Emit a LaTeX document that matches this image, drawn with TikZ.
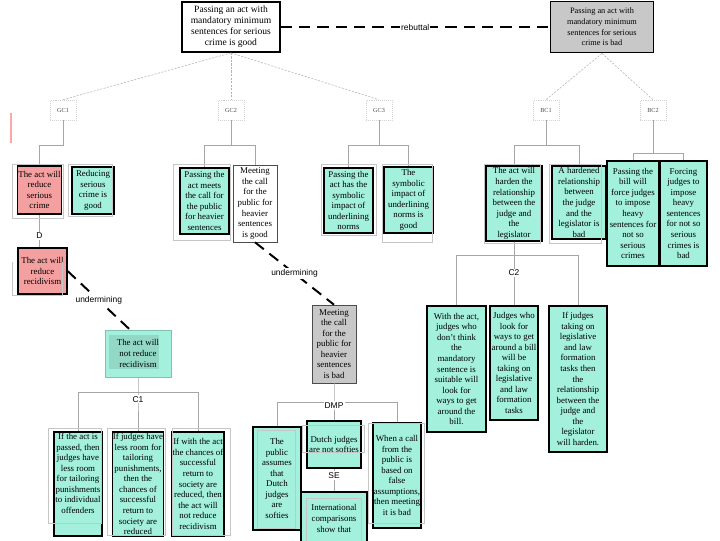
\documentclass[tikz,border=0pt]{standalone}
\usepackage{fontspec}
\setmainfont{Liberation Serif}
\setsansfont{Liberation Sans}

\newlength{\pxl}
\setlength{\pxl}{0.025cm}
\definecolor{objred}{RGB}{245,160,160}
\definecolor{reasongreen}{RGB}{163,240,220}
\definecolor{claimgray}{RGB}{200,200,200}
\newcommand{\argfont}{\fontsize{6.3}{7.5}\selectfont}

\tikzset{
  sz/.style 2 args={minimum width=#1\pxl, minimum height=#2\pxl},
  claim/.style={draw, line width=1.3pt, align=center, inner sep=1pt, font=\fontsize{6.8}{7.8}\selectfont},
  reason/.style={draw, line width=0.8pt, fill=reasongreen, align=center, inner sep=0.5pt, font=\argfont},
  objection/.style={reason, fill=objred},
  unmarked/.style={draw=black!70, line width=0.4pt, align=center, inner sep=0.5pt, font=\argfont},
  tag/.style={draw=gray!35, densely dotted, text=black!70, font=\fontsize{4.4}{5}\selectfont, sz={26}{20}, inner sep=0pt},
  lab/.style={font=\sffamily\fontsize{6}{7}\selectfont, text=black, fill=white, inner sep=0.8pt},
  link/.style={gray!60, line width=0.4pt, dash pattern=on 1.5pt off 1pt},
  tree/.style={gray!70, line width=0.5pt},
  frame/.style={gray!45, line width=0.4pt},
  rebut/.style={line width=1.4pt, dash pattern=on 8pt off 5pt},
}

\begin{document}
\begin{tikzpicture}[x=0.025cm, y=-0.025cm]
\useasboundingbox (0,0) rectangle (720,540);

% main claims and rebuttal
\node[claim, fill=white, sz={98}{50}] (good) at (231,27) {Passing an act with\\ mandatory minimum\\ sentences for serious\\ crime is good};
\node[claim, fill=claimgray, sz={103}{51}, font=\fontsize{5.9}{7.6}\selectfont] (bad) at (602,27) {Passing an act with\\ mandatory minimum\\ sentences for serious\\ crime is bad};
\draw[rebut] (good) -- node[lab]{rebuttal} (bad);

% scheme tags
\node[tag] (gc1) at (63,110) {GC1};
\node[tag] (gc2) at (231,110) {GC2};
\node[tag] (gc3) at (379,110) {GC3};
\node[tag] (bc1) at (546,110) {BC1};
\node[tag] (bc2) at (653,110) {BC2};
\draw[link] (good.south) -- (gc1.north);
\draw[link] (good.south) -- (gc2.north);
\draw[link] (good.south) -- (gc3.north);
\draw[link] (bad.south) -- (bc1.north);
\draw[link] (bad.south) -- (bc2.north);
\draw[red!35, line width=1.4pt] (11,113) -- (11,143);

% GC1
\node[objection, sz={43}{48}] (red1) at (39.5,190) {The act will\\ reduce\\ serious\\ crime};
\node[reason, sz={42}{47}] (crimegood) at (93,190.5) {Reducing\\ serious\\ crime is\\ good};
\draw[tree] (gc1.south) -- ++(0,25) -| (red1.north);
\node[objection, sz={49}{46}] (red2) at (42.5,271) {The act will\\ reduce\\ recidivism};
\draw[tree] (red1.south) -- node[lab, pos=0.65]{D} (red1.south |- red2.north);
\node[reason, draw=reasongreen!80!black, line width=0.4pt, sz={66}{47},
  path picture={\fill[reasongreen!90!black] ([xshift=4\pxl,yshift=-5\pxl]path picture bounding box.north west) rectangle ([xshift=-12\pxl,yshift=8\pxl]path picture bounding box.south east);}]
  (norecid) at (138,353.5) {The act will\\ not reduce\\ recidivism};
\draw[rebut] (red2.east) -- node[lab]{undermining} ([xshift=-8\pxl]norecid.north);

% C1
\node[reason, sz={48}{104}] (c1a) at (78,484) {If the act is\\ passed, then\\ judges have\\ less room\\ for tailoring\\ punishments\\ to individual\\ offenders\\ \mbox{}\\ \mbox{}};
\node[reason, sz={48}{104}] (c1b) at (138,484) {If judges have\\ less room for\\ tailoring\\ punishments,\\ then the\\ chances of\\ successful\\ return to\\ society are\\ reduced};
\node[reason, sz={48}{104}] (c1c) at (198,484) {If with the act\\ the chances of\\ successful\\ return to\\ society are\\ reduced, then\\ the act will\\ not reduce\\ recidivism};
\draw[tree] (norecid.south) -- ++(0,15) coordinate (c1j) -- node[lab, pos=0.18]{C1} (c1b.north);
\draw[tree] (c1a.north) |- (c1j) -| (c1c.north);

% GC2
\node[reason, sz={49}{66}] (meets) at (204.5,201) {Passing the\\ act meets\\ the call for\\ the public\\ for heavier\\ sentences};
\node[unmarked, sz={44}{77}] (callgood) at (255,203.5) {Meeting\\ the call\\ for the\\ public for\\ heavier\\ sentences\\ is good};
\draw[tree] (gc2.south) -- ++(0,25) coordinate (gc2j);
\draw[tree] (meets.north) |- (gc2j) -| (callgood.north);
\node[unmarked, fill=claimgray, sz={44}{78}] (callbad) at (334,344) {Meeting\\ the call\\ for the\\ public for\\ heavier\\ sentences\\ is bad};
\draw[rebut] (callgood.south) -- node[lab]{undermining} (callbad.north);

% DMP and SE
\node[reason, sz={48}{103}] (softies) at (277,478.5) {The\\ public\\ assumes\\ that\\ Dutch\\ judges\\ are\\ softies};
\node[reason, sz={54}{47}] (notsoft) at (334,444.5) {Dutch judges\\ are not softies};
\node[reason, sz={48}{105}] (falsecall) at (397,475.5) {When a call\\ from the\\ public is\\ based on\\ false\\ assumptions,\\ then meeting\\ it is bad};
\node[reason, sz={66}{53}] (intl) at (334,518.5) {International\\ comparisons\\ show that};
\draw[tree] (callbad.south) -- ++(0,19) coordinate (dmpj) -- (notsoft.north);
\draw[tree] (softies.north) |- (dmpj) -| (falsecall.north);
\node[lab] (dmplab) at ([yshift=-3\pxl]dmpj) {DMP};
\draw[tree] (notsoft.south) -- node[lab, pos=0.3]{SE} (intl.north);

% GC3
\node[reason, sz={49}{65}] (symbolic) at (348.5,200.5) {Passing the\\ act has the\\ symbolic\\ impact of\\ underlining\\ norms};
\node[reason, sz={49}{66}] (symgood) at (408.5,200) {The\\ symbolic\\ impact of\\ underlining\\ norms is\\ good};
\draw[tree] (gc3.south) -- ++(0,25) coordinate (gc3j);
\draw[tree] (symbolic.north) |- (gc3j) -| (symgood.north);

% BC1
\node[reason, sz={56}{75}] (harden) at (514,203.5) {The act will\\ harden the\\ relationship\\ between the\\ judge and\\ the\\ legislator};
\node[reason, sz={54}{73}] (hardbad) at (579,202.5) {A hardened\\ relationship\\ between\\ the judge\\ and the\\ legislator is\\ bad};
\draw[tree] (bc1.south) -- ++(0,25) coordinate (bc1j);
\draw[tree] (harden.north) |- (bc1j) -| (hardbad.north);

% BC2
\node[reason, sz={52}{105}] (force) at (633,213.5) {Passing the\\ bill will\\ force judges\\ to impose\\ heavy\\ sentences for\\ not so\\ serious\\ crimes};
\node[reason, sz={47}{105}] (forcebad) at (683.5,213.5) {Forcing\\ judges to\\ impose\\ heavy\\ sentences\\ for not so\\ serious\\ crimes is\\ bad};
\draw[tree] (bc2.south) -- ++(0,33) coordinate (bc2j);
\draw[tree] (force.north) |- (bc2j) -| (forcebad.north);

% C2
\node[reason, sz={59}{126}] (c2a) at (456.5,369) {With the act,\\ judges who\\ don't think\\ the\\ mandatory\\ sentence is\\ suitable will\\ look for\\ ways to get\\ around the\\ bill.};
\node[reason, sz={48}{114}] (c2b) at (514,363) {Judges who\\ look for\\ ways to get\\ around a bill\\ will be\\ taking on\\ legislative\\ and law\\ formation\\ tasks};
\node[reason, sz={58}{146}] (c2c) at (578,379) {If judges\\ taking on\\ legislative\\ and law\\ formation\\ tasks then\\ the\\ relationship\\ between the\\ judge and\\ the\\ legislator\\ will harden.};
\draw[tree] (harden.south) -- ++(0,14) coordinate (c2j) -- node[lab, pos=0.35]{C2} (c2b.north);
\draw[tree] (c2a.north) |- (c2j) -| (c2c.north);

% grey premise frames
\draw[frame] (12,164) rectangle (63,218);
\draw[frame] (68,164) rectangle (112,216);
\draw[frame] (12,262) |- (62,295) -- (62,262);
\draw[frame] (48,428) rectangle (101,523);
\draw[frame] (107,428) rectangle (165,535);
\draw[frame] (172,428) rectangle (230,535);
\draw[frame] (173,164) rectangle (230,240);
\draw[frame] (321,164) rectangle (376,235);
\draw[frame] (382,164) rectangle (432,242);
\draw[frame] (484,164) rectangle (540,243);
\draw[frame] (549,164) rectangle (601,243);
\draw[frame] (257,430) rectangle (295,528);
\draw[frame] (302,425) rectangle (364,452);
\draw[frame] (368,423) rectangle (424,523);
\draw[frame] (306,498) rectangle (361,545);
\end{tikzpicture}
\end{document}
